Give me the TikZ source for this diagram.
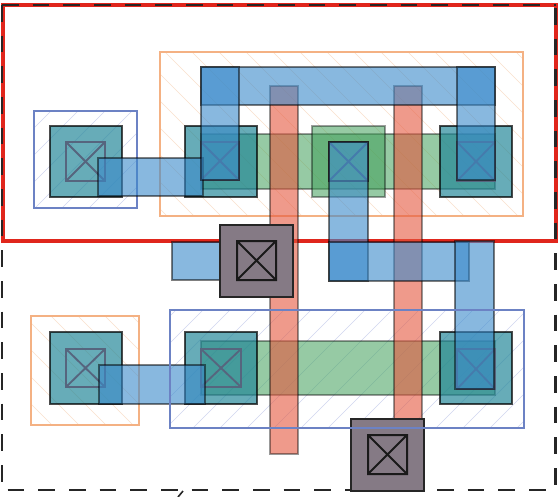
\documentclass[tikz,border=0pt]{standalone}
\definecolor{oframe}{HTML}{F4B183}
\definecolor{bframe}{HTML}{6C82C4}
\definecolor{ohatch}{HTML}{FAE0CC}
\definecolor{bhatch}{HTML}{D0D6F0}
\definecolor{tealc}{HTML}{1F8597}
\definecolor{greenc}{HTML}{41A05A}
\definecolor{metal}{HTML}{3A8ACB}
\definecolor{polyc}{HTML}{E5583F}
\definecolor{gatec}{HTML}{857A85}
\definecolor{redc}{HTML}{E0261C}
\definecolor{contactc}{HTML}{56657E}
\tikzset{
  teal box/.style={fill=tealc,fill opacity=.68,draw=black,draw opacity=.7,line width=1.7pt},
  green box/.style={fill=greenc,fill opacity=.55,draw=black,draw opacity=.38,line width=1.3pt},
  diff box/.style={fill=greenc,fill opacity=.55,draw=black,draw opacity=.38,line width=1.2pt},
  poly box/.style={fill=polyc,fill opacity=.6,draw=black,draw opacity=.4,line width=1.3pt},
  metal box/.style={fill=metal,fill opacity=.6,draw=black,draw opacity=.5,line width=1.4pt},
  contact/.style={draw=contactc,line width=1.4pt},
  gate box/.style={fill=gatec,draw=black!85,line width=1.7pt},
  gate contact/.style={draw=black!90,line width=1.5pt},
  ohatchline/.style={draw=ohatch,line width=.4pt},
  bhatchline/.style={draw=bhatch,line width=.4pt},
  frameline/.style={line width=1.5pt},
  outline/.style={draw=black!85,line width=1.6pt,dash pattern=on 12.5pt off 10.5pt},
}
\newcommand{\xbox}[5]{\draw[#1] (#2,#3) rectangle (#4,#5) (#2,#3) -- (#4,#5) (#2,#5) -- (#4,#3);}
\newcommand{\hatchO}[4]{\begin{scope}\clip (#1,#2) rectangle (#3,#4);
  \foreach \k in {-400,-373,...,600} \draw[ohatchline] (\k,0) -- (\k+500,500);\end{scope}}
\newcommand{\hatchB}[4]{\begin{scope}\clip (#1,#2) rectangle (#3,#4);
  \foreach \k in {0,27,...,1100} \draw[bhatchline] (\k,0) -- (\k-500,500);\end{scope}}
\begin{document}
\begin{tikzpicture}[x=.75pt,y=-.75pt]
\useasboundingbox (0,0) rectangle (560,496);
\fill[white] (0,0) rectangle (560,496);
% cell outlines
\draw[redc,line width=3.1pt] (3,5) rectangle (556,241);
\draw[outline] (2,5) -- (556,5);
\draw[outline] (2,5) -- (2,490) -- (552,490);
\draw[outline] (555.5,8) -- (555.5,490);
\draw[black!85,line width=1.2pt] (178,497) -- (183,491);
% hatched wells
\hatchB{34}{111}{137}{208}
\hatchO{160}{52}{523}{216}
\hatchO{31}{316}{139}{425}
\hatchB{170}{310}{524}{428}
\draw[oframe,frameline] (160,52) rectangle (523,216);
\draw[bframe,frameline] (34,111) rectangle (137,208);
\draw[oframe,frameline] (31,316) rectangle (139,425);
% diffusion
\draw[diff box] (201,134) rectangle (495,189);
\draw[diff box] (201,341) rectangle (495,395);
% diffusion pads
\draw[teal box] (50,126) rectangle (122,197);
\draw[teal box] (185,126) rectangle (257,197);
\draw[green box] (312,126) rectangle (385,197);
\draw[teal box] (440,126) rectangle (512,197);
\draw[teal box] (50,332) rectangle (122,404);
\draw[teal box] (185,332) rectangle (257,404);
\draw[teal box] (440,332) rectangle (512,404);
% poly
\draw[poly box] (270,86) rectangle (298,454);
\draw[poly box] (394,86) rectangle (422,430);
% contacts
\xbox{contact}{66}{142}{105}{181}
\xbox{contact}{201}{142}{239}{180}
\xbox{contact}{329}{142}{368}{181}
\xbox{contact}{457}{142}{495}{181}
\xbox{contact}{66}{349}{105}{387}
\xbox{contact}{201}{349}{241}{387}
\xbox{contact}{457}{349}{495}{389}
\draw[black!75,line width=1.5pt] (329,142) rectangle (368,181);
% metal
\draw[metal box] (98,158) rectangle (203,196);
\draw[metal box] (201,67) rectangle (495,105);
\draw[metal box] (201,67) rectangle (239,180);
\draw[metal box] (457,67) rectangle (495,180);
\draw[metal box] (329,142) rectangle (368,281);
\draw[metal box] (329,242) rectangle (469,281);
\draw[metal box] (455,241) rectangle (494,389);
\draw[metal box] (172,242) rectangle (225,280);
\draw[metal box] (99,365) rectangle (205,404);
% gates
\draw[gate box] (220,225) rectangle (293,297);
\xbox{gate contact}{237}{241}{276}{280}
\draw[gate box] (351,419) rectangle (424,491);
\xbox{gate contact}{368}{435}{407}{474}
\draw[bframe,frameline] (170,310) rectangle (524,428);
\end{tikzpicture}
\end{document}
